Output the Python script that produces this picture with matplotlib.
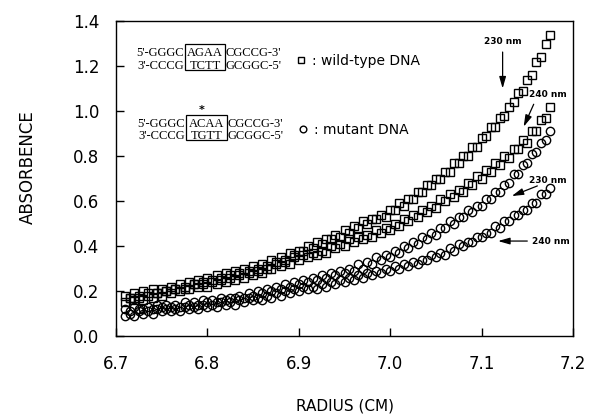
import matplotlib
matplotlib.use("Agg")
import matplotlib.pyplot as plt
from matplotlib.patches import Rectangle

# ---------------- data ----------------
radius = [
    6.710, 6.715, 6.720, 6.725, 6.730, 6.735, 6.740, 6.745, 6.750, 6.755,
    6.760, 6.765, 6.770, 6.775, 6.780, 6.785, 6.790, 6.795, 6.800, 6.805,
    6.810, 6.815, 6.820, 6.825, 6.830, 6.835, 6.840, 6.845, 6.850, 6.855,
    6.860, 6.865, 6.870, 6.875, 6.880, 6.885, 6.890, 6.895, 6.900, 6.905,
    6.910, 6.915, 6.920, 6.925, 6.930, 6.935, 6.940, 6.945, 6.950, 6.955,
    6.960, 6.965, 6.970, 6.975, 6.980, 6.985, 6.990, 6.995, 7.000, 7.005,
    7.010, 7.015, 7.020, 7.025, 7.030, 7.035, 7.040, 7.045, 7.050, 7.055,
    7.060, 7.065, 7.070, 7.075, 7.080, 7.085, 7.090, 7.095, 7.100, 7.105,
    7.110, 7.115, 7.120, 7.125, 7.130, 7.135, 7.140, 7.145, 7.150, 7.155,
    7.160, 7.165, 7.170, 7.175,
]

wild_230 = [
    0.18, 0.17, 0.19, 0.18, 0.20, 0.19, 0.21, 0.19, 0.21, 0.20,
    0.22, 0.21, 0.23, 0.22, 0.24, 0.23, 0.25, 0.24, 0.26, 0.25,
    0.27, 0.26, 0.28, 0.27, 0.29, 0.28, 0.30, 0.29, 0.31, 0.30,
    0.32, 0.31, 0.34, 0.33, 0.35, 0.34, 0.37, 0.36, 0.38, 0.38,
    0.40, 0.39, 0.42, 0.41, 0.43, 0.43, 0.45, 0.44, 0.47, 0.46,
    0.49, 0.48, 0.51, 0.50, 0.52, 0.52, 0.54, 0.53, 0.56, 0.56,
    0.59, 0.58, 0.61, 0.61, 0.64, 0.64, 0.67, 0.67, 0.70, 0.70,
    0.73, 0.73, 0.77, 0.77, 0.80, 0.80, 0.84, 0.84, 0.88, 0.89,
    0.93, 0.93, 0.97, 0.98, 1.02, 1.04, 1.08, 1.09, 1.14, 1.16,
    1.22, 1.24, 1.30, 1.34,
]

wild_240 = [
    0.15, 0.17, 0.16, 0.17, 0.16, 0.18, 0.17, 0.19, 0.18, 0.20,
    0.19, 0.21, 0.20, 0.21, 0.21, 0.23, 0.22, 0.23, 0.22, 0.24,
    0.23, 0.25, 0.24, 0.26, 0.25, 0.27, 0.26, 0.28, 0.27, 0.29,
    0.28, 0.30, 0.30, 0.32, 0.31, 0.33, 0.32, 0.35, 0.34, 0.36,
    0.35, 0.37, 0.36, 0.38, 0.37, 0.40, 0.39, 0.41, 0.40, 0.43,
    0.42, 0.44, 0.43, 0.45, 0.44, 0.47, 0.46, 0.48, 0.47, 0.50,
    0.49, 0.52, 0.51, 0.54, 0.53, 0.56, 0.55, 0.58, 0.57, 0.61,
    0.60, 0.63, 0.62, 0.65, 0.64, 0.68, 0.67, 0.71, 0.70, 0.74,
    0.73, 0.77, 0.76, 0.80, 0.79, 0.83, 0.83, 0.87, 0.86, 0.91,
    0.91, 0.96, 0.97, 1.02,
]

mutant_230 = [
    0.12, 0.11, 0.13, 0.12, 0.12, 0.13, 0.12, 0.14, 0.13, 0.14,
    0.13, 0.14, 0.13, 0.15, 0.14, 0.15, 0.14, 0.16, 0.15, 0.16,
    0.15, 0.17, 0.16, 0.17, 0.17, 0.18, 0.17, 0.19, 0.18, 0.20,
    0.19, 0.21, 0.20, 0.22, 0.21, 0.23, 0.22, 0.24, 0.23, 0.25,
    0.24, 0.26, 0.25, 0.27, 0.26, 0.28, 0.27, 0.29, 0.28, 0.30,
    0.29, 0.32, 0.30, 0.33, 0.32, 0.35, 0.34, 0.36, 0.35, 0.38,
    0.37, 0.40, 0.39, 0.42, 0.41, 0.44, 0.43, 0.46, 0.45, 0.48,
    0.48, 0.51, 0.50, 0.53, 0.53, 0.56, 0.55, 0.58, 0.58, 0.61,
    0.61, 0.64, 0.64, 0.67, 0.68, 0.72, 0.72, 0.76, 0.77, 0.81,
    0.82, 0.86, 0.87, 0.91,
]

mutant_240 = [
    0.09, 0.10, 0.09, 0.11, 0.10, 0.11, 0.10, 0.12, 0.11, 0.12,
    0.11, 0.12, 0.11, 0.13, 0.12, 0.13, 0.12, 0.14, 0.13, 0.14,
    0.13, 0.15, 0.14, 0.15, 0.14, 0.16, 0.15, 0.17, 0.16, 0.17,
    0.16, 0.18, 0.17, 0.19, 0.18, 0.20, 0.19, 0.21, 0.20, 0.22,
    0.21, 0.22, 0.21, 0.23, 0.22, 0.24, 0.23, 0.25, 0.24, 0.26,
    0.25, 0.27, 0.26, 0.28, 0.27, 0.29, 0.28, 0.30, 0.29, 0.31,
    0.30, 0.32, 0.31, 0.33, 0.32, 0.34, 0.34, 0.36, 0.35, 0.37,
    0.36, 0.39, 0.38, 0.41, 0.40, 0.42, 0.42, 0.44, 0.44, 0.46,
    0.46, 0.49, 0.48, 0.51, 0.51, 0.54, 0.54, 0.56, 0.56, 0.59,
    0.59, 0.63, 0.63, 0.66,
]

x_ticks = [6.7, 6.8, 6.9, 7.0, 7.1, 7.2]
y_ticks = [0.0, 0.2, 0.4, 0.6, 0.8, 1.0, 1.2, 1.4]

# wavelength annotations: (label, text position, arrow tail, arrow head)
wl_labels = ["230 nm", "240 nm", "230 nm", "240 nm"]
wl_text_xy = [(7.123, 1.307), (7.172, 1.075), (7.172, 0.693), (7.176, 0.422)]
wl_tail_xy = [(7.123, 1.262), (7.157, 1.030), (7.161, 0.667), (7.150, 0.422)]
wl_head_xy = [(7.123, 1.100), (7.146, 0.930), (7.133, 0.622), (7.118, 0.422)]

# ---------------- figure ----------------
W, H = 599, 417
fig = plt.figure(figsize=(W / 100, H / 100), dpi=100)
ax = fig.add_axes([116 / W, (H - 336) / H, 457 / W, 315 / H])

mk = dict(linestyle="none", markerfacecolor="none", markeredgecolor="black",
          markeredgewidth=1.0)
h_wt, = ax.plot(radius, wild_230, marker="s", markersize=6, **mk)
ax.plot(radius, wild_240, marker="s", markersize=6, **mk)
h_mu, = ax.plot(radius, mutant_230, marker="o", markersize=6, **mk)
ax.plot(radius, mutant_240, marker="o", markersize=6, **mk)

ax.set_xlim(6.7, 7.2)
ax.set_ylim(0.0, 1.4)
ax.set_xticks(x_ticks)
ax.set_yticks(y_ticks)
ax.set_xticklabels([f"{v:.1f}" for v in x_ticks])
ax.set_yticklabels([f"{v:.1f}" for v in y_ticks])
ax.tick_params(axis="both", direction="in", length=6, width=1,
               labelsize=12, top=False, right=False)
ax.tick_params(axis="x", pad=14)
ax.tick_params(axis="y", pad=12)
for t in ax.get_xticklabels() + ax.get_yticklabels():
    t.set_fontfamily("DejaVu Sans")
for s in ax.spines.values():
    s.set_linewidth(1.0)

ax.set_xlabel("RADIUS (CM)", fontsize=11, family="DejaVu Sans")
ax.set_ylabel("ABSORBENCE", fontsize=12, family="DejaVu Sans")
ax.xaxis.label.set_verticalalignment("center")
ax.xaxis.set_label_coords(0.5, (336 - 406) / 315)
ax.yaxis.set_label_coords((37 - 116) / 457, 0.535)

# ---------------- sequence annotations ----------------
def px(x, y):
    """figure pixel (from top-left) to axes fraction"""
    return (x - 116) / 457, (336 - y) / 315

seq_font = dict(family="Liberation Serif", fontsize=9, color="black")

def seq_block(box_x0, box_x1, box_y0, box_y1, y1, y2, parts1, parts2):
    bx0, by0 = px(box_x0, box_y1)
    bx1, by1 = px(box_x1, box_y0)
    ax.add_patch(Rectangle((bx0, by0), bx1 - bx0, by1 - by0, transform=ax.transAxes,
                           fill=False, edgecolor="black", linewidth=0.9))
    for yy, parts in ((y1, parts1), (y2, parts2)):
        _, ya = px(0, yy)
        ax.text(bx0 - 0.002, ya, parts[0], ha="right", va="center",
                transform=ax.transAxes, **seq_font)
        ax.text((bx0 + bx1) / 2, ya, parts[1], ha="center", va="center",
                transform=ax.transAxes, **seq_font)
        ax.text(bx1 + 0.002, ya, parts[2], ha="left", va="center",
                transform=ax.transAxes, **seq_font)

seq_block(185, 225, 44, 70, 53, 66,
          ("5'-GGGC", "AGAA", "CGCCG-3'"), ("3'-CCCG", "TCTT", "GCGGC-5'"))
seq_block(186, 227, 115, 140, 124, 136,
          ("5'-GGGC", "ACAA", "CGCCG-3'"), ("3'-CCCG", "TGTT", "GCGGC-5'"))
ax.text(*px(202, 110), "*", ha="center", va="center", transform=ax.transAxes,
        fontsize=8, fontweight="bold", family="DejaVu Sans")

# ---------------- series legends ----------------
leg_kw = dict(frameon=False, handlelength=0.5, handletextpad=0.5, borderpad=0,
              borderaxespad=0, fontsize=10, loc="center left", markerscale=0.8)
leg1 = ax.legend([h_wt], [": wild-type DNA"], bbox_to_anchor=px(298, 61), **leg_kw)
ax.add_artist(leg1)
leg2 = ax.legend([h_mu], [": mutant DNA"], bbox_to_anchor=px(300, 130), **leg_kw)

# ---------------- wavelength arrows ----------------
for lab, txy, tail, head in zip(wl_labels, wl_text_xy, wl_tail_xy, wl_head_xy):
    ax.text(txy[0], txy[1], lab, ha="center", va="center", fontsize=6.5,
            fontweight="bold", family="DejaVu Sans")
    ax.annotate("", xy=head, xytext=tail,
                arrowprops=dict(arrowstyle="-|>,head_length=0.7,head_width=0.2",
                                color="black", lw=0.9, shrinkA=0, shrinkB=0))

fig.savefig("out.png", dpi=100)
